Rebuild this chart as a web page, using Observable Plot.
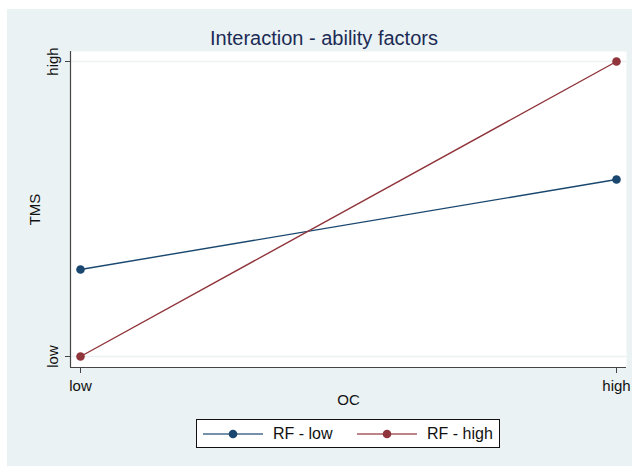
<!DOCTYPE html>
<html>
<head>
<meta charset="utf-8">
<script src="https://cdn.jsdelivr.net/npm/d3@7"></script>
<script src="https://cdn.jsdelivr.net/npm/@observablehq/plot@0.6"></script>
<style>
  html, body { margin: 0; padding: 0; background: #ffffff; }
  body { width: 632px; height: 466px; position: relative; overflow: hidden; font-family: "Liberation Sans", Arial, sans-serif; }
  #panel { position: absolute; left: 7px; top: 9px; width: 625px; height: 457px; background: #EAF2F3; }
  #chart { position: absolute; left: 0; top: 0; }
  #title { position: absolute; left: 0; width: 634px; top: 17px; text-align: center; font-size: 20px; color: #1c2b55; white-space: nowrap; line-height: 24px; }
  #legend { position: absolute; left: 189px; top: 410px; width: 302px; height: 27px; background: #fff; border: 1px solid #111; }
  .item { position: absolute; top: 0; height: 27px; display: flex; align-items: center; font-size: 16px; color: #111; }
  .item svg { margin-right: 10px; }
</style>
</head>
<body>
<div id="panel">
  <div id="chart"></div>
  <div id="title">Interaction - ability factors</div>
  <div id="legend"></div>
</div>
<script>
// Data
const ocLevels = ["low", "high"];        // x categories (OC)
const tmsLabels = ["low", "high"];       // y tick labels (TMS)
const rfLowValues = [0.295, 0.60];       // RF - low
const rfHighValues = [0.0, 1.0];         // RF - high
const seriesNames = ["RF - low", "RF - high"];
const seriesColors = ["#1a476f", "#90353b"];

const rows = [];
ocLevels.forEach((oc, i) => {
  rows.push({series: seriesNames[0], x: i, y: rfLowValues[i]});
  rows.push({series: seriesNames[1], x: i, y: rfHighValues[i]});
});

const xDomain = [-10 / 536, 1 + 10 / 536];
const yDomain = [-11 / 295, 1 + 10 / 295];
const tickIdx = [0, 1];

const chart = Plot.plot({
  width: 625,
  height: 457,
  marginLeft: 63,
  marginRight: 6,
  marginTop: 42,
  marginBottom: 99,
  style: {background: "transparent", fontFamily: "Liberation Sans, Arial, sans-serif", color: "#111"},
  x: {domain: xDomain, axis: null},
  y: {domain: yDomain, axis: null},
  color: {domain: seriesNames, range: seriesColors},
  marks: [
    Plot.frame({fill: "white", stroke: "none"}),
    Plot.ruleY(tickIdx, {y: d => d, stroke: "#EAF2F3", strokeWidth: 1.5}),
    Plot.ruleX([xDomain[0]], {stroke: "#444", strokeWidth: 1.2}),
    Plot.ruleY([yDomain[0]], {stroke: "#444", strokeWidth: 1.2}),
    Plot.axisX({ticks: tickIdx, tickFormat: d => ocLevels[d], tickSize: 6, tickPadding: 7, fontSize: 15, stroke: "#444", color: "#111", label: null}),
    Plot.axisY({ticks: tickIdx, tickFormat: () => "", tickSize: 5, tickPadding: 0, stroke: "#444", label: null}),
    Plot.text(tickIdx, {y: d => d, text: d => tmsLabels[d], frameAnchor: "left", dx: -17, rotate: -90, textAnchor: "middle", lineAnchor: "middle", fontSize: 15, fill: "#111"}),
    Plot.text(["TMS"], {frameAnchor: "left", dx: -35, rotate: -90, textAnchor: "middle", lineAnchor: "middle", fontSize: 15, fill: "#111"}),
    Plot.text(["OC"], {frameAnchor: "bottom", dy: 33, textAnchor: "middle", lineAnchor: "middle", fontSize: 15, fill: "#111"}),
    // series
    Plot.line(rows, {x: "x", y: "y", stroke: "series", strokeWidth: 1.4}),
    Plot.dot(rows, {x: "x", y: "y", fill: "series", r: 4.3, stroke: "none"})
  ]
});
document.getElementById("chart").appendChild(chart);

// Legend
const legend = document.getElementById("legend");
const lefts = [6, 160];
seriesNames.forEach((name, i) => {
  const div = document.createElement("div");
  div.className = "item";
  div.style.left = lefts[i] + "px";
  const c = seriesColors[i];
  div.innerHTML = `<svg width="60" height="12"><line x1="0" x2="60" y1="6" y2="6" stroke="${c}" stroke-width="1.4" stroke-opacity="0.8"/><circle cx="30" cy="6" r="4.3" fill="${c}"/></svg><span>${name}</span>`;
  legend.appendChild(div);
});
</script>
</body>
</html>
